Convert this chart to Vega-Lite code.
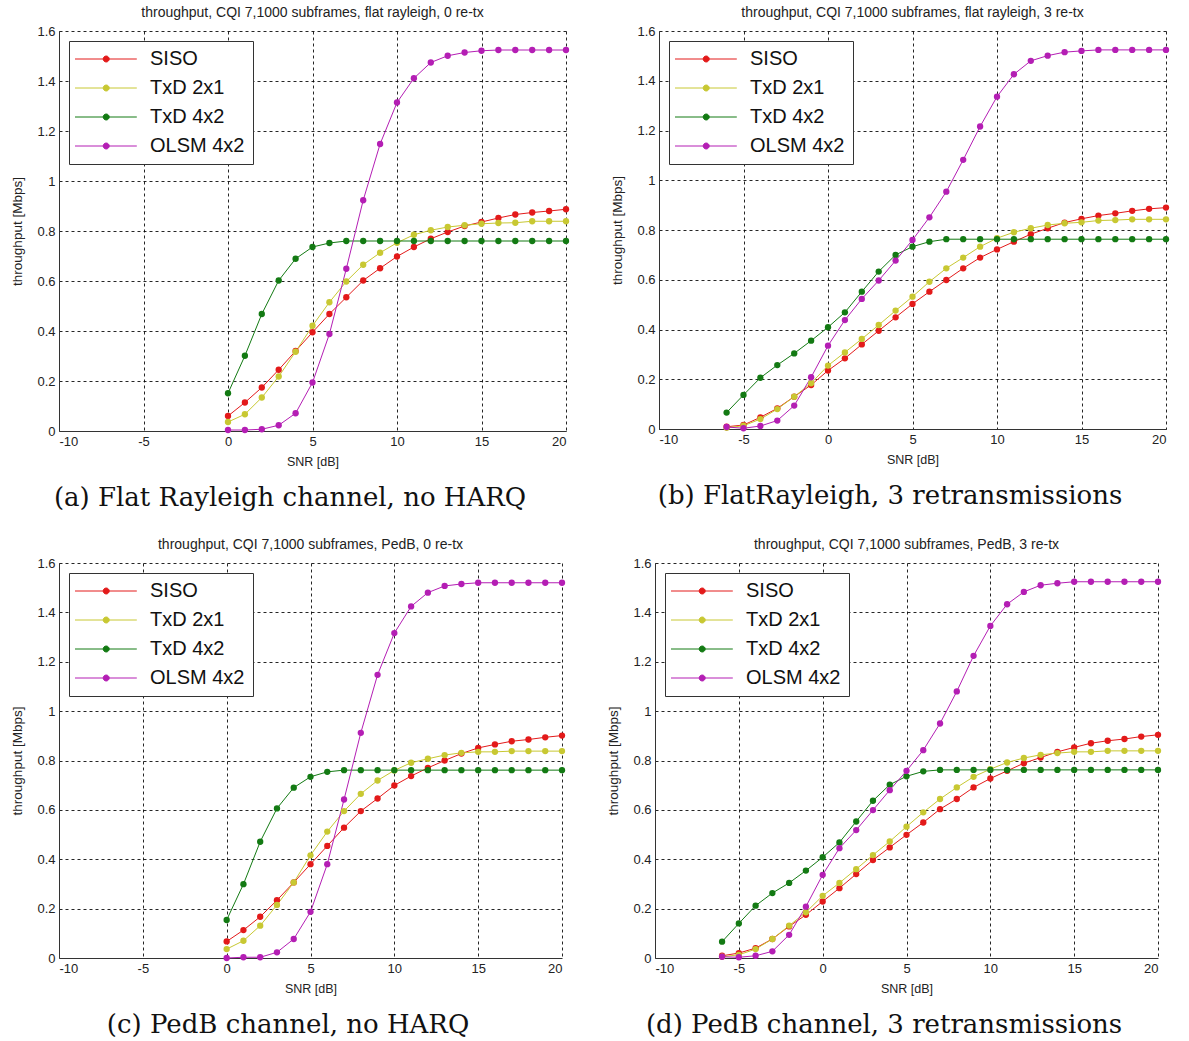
{
"$schema":"https://vega.github.io/schema/vega-lite/v6.json",
"padding":{"left":10,"top":6,"right":5,"bottom":3},
"datasets":{
"a":[
{"s":"SISO","x":0,"y":0.06},{"s":"SISO","x":1,"y":0.114},{"s":"SISO","x":2,"y":0.174},{"s":"SISO","x":3,"y":0.245},{"s":"SISO","x":4,"y":0.32},{"s":"SISO","x":5,"y":0.395},{"s":"SISO","x":6,"y":0.468},{"s":"SISO","x":7,"y":0.535},{"s":"SISO","x":8,"y":0.602},{"s":"SISO","x":9,"y":0.651},{"s":"SISO","x":10,"y":0.698},{"s":"SISO","x":11,"y":0.736},{"s":"SISO","x":12,"y":0.769},{"s":"SISO","x":13,"y":0.796},{"s":"SISO","x":14,"y":0.82},{"s":"SISO","x":15,"y":0.836},{"s":"SISO","x":16,"y":0.852},{"s":"SISO","x":17,"y":0.866},{"s":"SISO","x":18,"y":0.874},{"s":"SISO","x":19,"y":0.88},{"s":"SISO","x":20,"y":0.887},
{"s":"TxD 2x1","x":0,"y":0.036},{"s":"TxD 2x1","x":1,"y":0.067},{"s":"TxD 2x1","x":2,"y":0.134},{"s":"TxD 2x1","x":3,"y":0.218},{"s":"TxD 2x1","x":4,"y":0.317},{"s":"TxD 2x1","x":5,"y":0.421},{"s":"TxD 2x1","x":6,"y":0.515},{"s":"TxD 2x1","x":7,"y":0.598},{"s":"TxD 2x1","x":8,"y":0.665},{"s":"TxD 2x1","x":9,"y":0.713},{"s":"TxD 2x1","x":10,"y":0.753},{"s":"TxD 2x1","x":11,"y":0.785},{"s":"TxD 2x1","x":12,"y":0.803},{"s":"TxD 2x1","x":13,"y":0.816},{"s":"TxD 2x1","x":14,"y":0.823},{"s":"TxD 2x1","x":15,"y":0.829},{"s":"TxD 2x1","x":16,"y":0.832},{"s":"TxD 2x1","x":17,"y":0.833},{"s":"TxD 2x1","x":18,"y":0.839},{"s":"TxD 2x1","x":19,"y":0.839},{"s":"TxD 2x1","x":20,"y":0.839},
{"s":"TxD 4x2","x":0,"y":0.151},{"s":"TxD 4x2","x":1,"y":0.301},{"s":"TxD 4x2","x":2,"y":0.468},{"s":"TxD 4x2","x":3,"y":0.602},{"s":"TxD 4x2","x":4,"y":0.689},{"s":"TxD 4x2","x":5,"y":0.736},{"s":"TxD 4x2","x":6,"y":0.752},{"s":"TxD 4x2","x":7,"y":0.76},{"s":"TxD 4x2","x":8,"y":0.76},{"s":"TxD 4x2","x":9,"y":0.76},{"s":"TxD 4x2","x":10,"y":0.76},{"s":"TxD 4x2","x":11,"y":0.76},{"s":"TxD 4x2","x":12,"y":0.76},{"s":"TxD 4x2","x":13,"y":0.76},{"s":"TxD 4x2","x":14,"y":0.76},{"s":"TxD 4x2","x":15,"y":0.76},{"s":"TxD 4x2","x":16,"y":0.76},{"s":"TxD 4x2","x":17,"y":0.76},{"s":"TxD 4x2","x":18,"y":0.76},{"s":"TxD 4x2","x":19,"y":0.76},{"s":"TxD 4x2","x":20,"y":0.76},
{"s":"OLSM 4x2","x":0,"y":0.004},{"s":"OLSM 4x2","x":1,"y":0.004},{"s":"OLSM 4x2","x":2,"y":0.007},{"s":"OLSM 4x2","x":3,"y":0.023},{"s":"OLSM 4x2","x":4,"y":0.071},{"s":"OLSM 4x2","x":5,"y":0.194},{"s":"OLSM 4x2","x":6,"y":0.388},{"s":"OLSM 4x2","x":7,"y":0.649},{"s":"OLSM 4x2","x":8,"y":0.923},{"s":"OLSM 4x2","x":9,"y":1.148},{"s":"OLSM 4x2","x":10,"y":1.314},{"s":"OLSM 4x2","x":11,"y":1.411},{"s":"OLSM 4x2","x":12,"y":1.474},{"s":"OLSM 4x2","x":13,"y":1.501},{"s":"OLSM 4x2","x":14,"y":1.514},{"s":"OLSM 4x2","x":15,"y":1.521},{"s":"OLSM 4x2","x":16,"y":1.524},{"s":"OLSM 4x2","x":17,"y":1.524},{"s":"OLSM 4x2","x":18,"y":1.524},{"s":"OLSM 4x2","x":19,"y":1.524},{"s":"OLSM 4x2","x":20,"y":1.524}
],
"b":[
{"s":"SISO","x":-6,"y":0.009},{"s":"SISO","x":-5,"y":0.016},{"s":"SISO","x":-4,"y":0.047},{"s":"SISO","x":-3,"y":0.083},{"s":"SISO","x":-2,"y":0.13},{"s":"SISO","x":-1,"y":0.177},{"s":"SISO","x":0,"y":0.235},{"s":"SISO","x":1,"y":0.284},{"s":"SISO","x":2,"y":0.34},{"s":"SISO","x":3,"y":0.395},{"s":"SISO","x":4,"y":0.449},{"s":"SISO","x":5,"y":0.503},{"s":"SISO","x":6,"y":0.552},{"s":"SISO","x":7,"y":0.599},{"s":"SISO","x":8,"y":0.646},{"s":"SISO","x":9,"y":0.689},{"s":"SISO","x":10,"y":0.722},{"s":"SISO","x":11,"y":0.753},{"s":"SISO","x":12,"y":0.783},{"s":"SISO","x":13,"y":0.807},{"s":"SISO","x":14,"y":0.83},{"s":"SISO","x":15,"y":0.845},{"s":"SISO","x":16,"y":0.858},{"s":"SISO","x":17,"y":0.867},{"s":"SISO","x":18,"y":0.877},{"s":"SISO","x":19,"y":0.885},{"s":"SISO","x":20,"y":0.89},
{"s":"TxD 2x1","x":-6,"y":0.005},{"s":"TxD 2x1","x":-5,"y":0.013},{"s":"TxD 2x1","x":-4,"y":0.04},{"s":"TxD 2x1","x":-3,"y":0.08},{"s":"TxD 2x1","x":-2,"y":0.13},{"s":"TxD 2x1","x":-1,"y":0.184},{"s":"TxD 2x1","x":0,"y":0.255},{"s":"TxD 2x1","x":1,"y":0.308},{"s":"TxD 2x1","x":2,"y":0.362},{"s":"TxD 2x1","x":3,"y":0.418},{"s":"TxD 2x1","x":4,"y":0.476},{"s":"TxD 2x1","x":5,"y":0.532},{"s":"TxD 2x1","x":6,"y":0.592},{"s":"TxD 2x1","x":7,"y":0.646},{"s":"TxD 2x1","x":8,"y":0.689},{"s":"TxD 2x1","x":9,"y":0.733},{"s":"TxD 2x1","x":10,"y":0.767},{"s":"TxD 2x1","x":11,"y":0.791},{"s":"TxD 2x1","x":12,"y":0.807},{"s":"TxD 2x1","x":13,"y":0.82},{"s":"TxD 2x1","x":14,"y":0.827},{"s":"TxD 2x1","x":15,"y":0.831},{"s":"TxD 2x1","x":16,"y":0.838},{"s":"TxD 2x1","x":17,"y":0.84},{"s":"TxD 2x1","x":18,"y":0.843},{"s":"TxD 2x1","x":19,"y":0.843},{"s":"TxD 2x1","x":20,"y":0.843},
{"s":"TxD 4x2","x":-6,"y":0.066},{"s":"TxD 4x2","x":-5,"y":0.137},{"s":"TxD 4x2","x":-4,"y":0.206},{"s":"TxD 4x2","x":-3,"y":0.257},{"s":"TxD 4x2","x":-2,"y":0.304},{"s":"TxD 4x2","x":-1,"y":0.355},{"s":"TxD 4x2","x":0,"y":0.409},{"s":"TxD 4x2","x":1,"y":0.469},{"s":"TxD 4x2","x":2,"y":0.552},{"s":"TxD 4x2","x":3,"y":0.633},{"s":"TxD 4x2","x":4,"y":0.7},{"s":"TxD 4x2","x":5,"y":0.733},{"s":"TxD 4x2","x":6,"y":0.753},{"s":"TxD 4x2","x":7,"y":0.763},{"s":"TxD 4x2","x":8,"y":0.763},{"s":"TxD 4x2","x":9,"y":0.763},{"s":"TxD 4x2","x":10,"y":0.763},{"s":"TxD 4x2","x":11,"y":0.763},{"s":"TxD 4x2","x":12,"y":0.763},{"s":"TxD 4x2","x":13,"y":0.763},{"s":"TxD 4x2","x":14,"y":0.763},{"s":"TxD 4x2","x":15,"y":0.763},{"s":"TxD 4x2","x":16,"y":0.763},{"s":"TxD 4x2","x":17,"y":0.763},{"s":"TxD 4x2","x":18,"y":0.763},{"s":"TxD 4x2","x":19,"y":0.763},{"s":"TxD 4x2","x":20,"y":0.763},
{"s":"OLSM 4x2","x":-6,"y":0.008},{"s":"OLSM 4x2","x":-5,"y":0.003},{"s":"OLSM 4x2","x":-4,"y":0.012},{"s":"OLSM 4x2","x":-3,"y":0.034},{"s":"OLSM 4x2","x":-2,"y":0.094},{"s":"OLSM 4x2","x":-1,"y":0.208},{"s":"OLSM 4x2","x":0,"y":0.335},{"s":"OLSM 4x2","x":1,"y":0.438},{"s":"OLSM 4x2","x":2,"y":0.523},{"s":"OLSM 4x2","x":3,"y":0.597},{"s":"OLSM 4x2","x":4,"y":0.677},{"s":"OLSM 4x2","x":5,"y":0.76},{"s":"OLSM 4x2","x":6,"y":0.851},{"s":"OLSM 4x2","x":7,"y":0.954},{"s":"OLSM 4x2","x":8,"y":1.082},{"s":"OLSM 4x2","x":9,"y":1.216},{"s":"OLSM 4x2","x":10,"y":1.336},{"s":"OLSM 4x2","x":11,"y":1.426},{"s":"OLSM 4x2","x":12,"y":1.48},{"s":"OLSM 4x2","x":13,"y":1.501},{"s":"OLSM 4x2","x":14,"y":1.515},{"s":"OLSM 4x2","x":15,"y":1.52},{"s":"OLSM 4x2","x":16,"y":1.524},{"s":"OLSM 4x2","x":17,"y":1.524},{"s":"OLSM 4x2","x":18,"y":1.524},{"s":"OLSM 4x2","x":19,"y":1.524},{"s":"OLSM 4x2","x":20,"y":1.524}
],
"c":[
{"s":"SISO","x":0,"y":0.067},{"s":"SISO","x":1,"y":0.113},{"s":"SISO","x":2,"y":0.167},{"s":"SISO","x":3,"y":0.234},{"s":"SISO","x":4,"y":0.306},{"s":"SISO","x":5,"y":0.38},{"s":"SISO","x":6,"y":0.454},{"s":"SISO","x":7,"y":0.528},{"s":"SISO","x":8,"y":0.595},{"s":"SISO","x":9,"y":0.646},{"s":"SISO","x":10,"y":0.699},{"s":"SISO","x":11,"y":0.737},{"s":"SISO","x":12,"y":0.77},{"s":"SISO","x":13,"y":0.8},{"s":"SISO","x":14,"y":0.828},{"s":"SISO","x":15,"y":0.851},{"s":"SISO","x":16,"y":0.865},{"s":"SISO","x":17,"y":0.878},{"s":"SISO","x":18,"y":0.885},{"s":"SISO","x":19,"y":0.894},{"s":"SISO","x":20,"y":0.901},
{"s":"TxD 2x1","x":0,"y":0.036},{"s":"TxD 2x1","x":1,"y":0.07},{"s":"TxD 2x1","x":2,"y":0.131},{"s":"TxD 2x1","x":3,"y":0.215},{"s":"TxD 2x1","x":4,"y":0.306},{"s":"TxD 2x1","x":5,"y":0.416},{"s":"TxD 2x1","x":6,"y":0.512},{"s":"TxD 2x1","x":7,"y":0.595},{"s":"TxD 2x1","x":8,"y":0.665},{"s":"TxD 2x1","x":9,"y":0.719},{"s":"TxD 2x1","x":10,"y":0.76},{"s":"TxD 2x1","x":11,"y":0.791},{"s":"TxD 2x1","x":12,"y":0.807},{"s":"TxD 2x1","x":13,"y":0.822},{"s":"TxD 2x1","x":14,"y":0.831},{"s":"TxD 2x1","x":15,"y":0.835},{"s":"TxD 2x1","x":16,"y":0.835},{"s":"TxD 2x1","x":17,"y":0.838},{"s":"TxD 2x1","x":18,"y":0.838},{"s":"TxD 2x1","x":19,"y":0.838},{"s":"TxD 2x1","x":20,"y":0.838},
{"s":"TxD 4x2","x":0,"y":0.154},{"s":"TxD 4x2","x":1,"y":0.299},{"s":"TxD 4x2","x":2,"y":0.471},{"s":"TxD 4x2","x":3,"y":0.606},{"s":"TxD 4x2","x":4,"y":0.69},{"s":"TxD 4x2","x":5,"y":0.734},{"s":"TxD 4x2","x":6,"y":0.754},{"s":"TxD 4x2","x":7,"y":0.761},{"s":"TxD 4x2","x":8,"y":0.761},{"s":"TxD 4x2","x":9,"y":0.761},{"s":"TxD 4x2","x":10,"y":0.761},{"s":"TxD 4x2","x":11,"y":0.761},{"s":"TxD 4x2","x":12,"y":0.761},{"s":"TxD 4x2","x":13,"y":0.761},{"s":"TxD 4x2","x":14,"y":0.761},{"s":"TxD 4x2","x":15,"y":0.761},{"s":"TxD 4x2","x":16,"y":0.761},{"s":"TxD 4x2","x":17,"y":0.761},{"s":"TxD 4x2","x":18,"y":0.761},{"s":"TxD 4x2","x":19,"y":0.761},{"s":"TxD 4x2","x":20,"y":0.761},
{"s":"OLSM 4x2","x":0,"y":0.0},{"s":"OLSM 4x2","x":1,"y":0.003},{"s":"OLSM 4x2","x":2,"y":0.003},{"s":"OLSM 4x2","x":3,"y":0.023},{"s":"OLSM 4x2","x":4,"y":0.077},{"s":"OLSM 4x2","x":5,"y":0.187},{"s":"OLSM 4x2","x":6,"y":0.38},{"s":"OLSM 4x2","x":7,"y":0.642},{"s":"OLSM 4x2","x":8,"y":0.912},{"s":"OLSM 4x2","x":9,"y":1.147},{"s":"OLSM 4x2","x":10,"y":1.316},{"s":"OLSM 4x2","x":11,"y":1.424},{"s":"OLSM 4x2","x":12,"y":1.48},{"s":"OLSM 4x2","x":13,"y":1.507},{"s":"OLSM 4x2","x":14,"y":1.515},{"s":"OLSM 4x2","x":15,"y":1.52},{"s":"OLSM 4x2","x":16,"y":1.52},{"s":"OLSM 4x2","x":17,"y":1.52},{"s":"OLSM 4x2","x":18,"y":1.52},{"s":"OLSM 4x2","x":19,"y":1.52},{"s":"OLSM 4x2","x":20,"y":1.52}
],
"d":[
{"s":"SISO","x":-6,"y":0.009},{"s":"SISO","x":-5,"y":0.02},{"s":"SISO","x":-4,"y":0.04},{"s":"SISO","x":-3,"y":0.077},{"s":"SISO","x":-2,"y":0.128},{"s":"SISO","x":-1,"y":0.175},{"s":"SISO","x":0,"y":0.229},{"s":"SISO","x":1,"y":0.283},{"s":"SISO","x":2,"y":0.34},{"s":"SISO","x":3,"y":0.397},{"s":"SISO","x":4,"y":0.448},{"s":"SISO","x":5,"y":0.499},{"s":"SISO","x":6,"y":0.549},{"s":"SISO","x":7,"y":0.603},{"s":"SISO","x":8,"y":0.644},{"s":"SISO","x":9,"y":0.691},{"s":"SISO","x":10,"y":0.727},{"s":"SISO","x":11,"y":0.758},{"s":"SISO","x":12,"y":0.789},{"s":"SISO","x":13,"y":0.812},{"s":"SISO","x":14,"y":0.835},{"s":"SISO","x":15,"y":0.853},{"s":"SISO","x":16,"y":0.87},{"s":"SISO","x":17,"y":0.88},{"s":"SISO","x":18,"y":0.887},{"s":"SISO","x":19,"y":0.897},{"s":"SISO","x":20,"y":0.904},
{"s":"TxD 2x1","x":-6,"y":0.005},{"s":"TxD 2x1","x":-5,"y":0.013},{"s":"TxD 2x1","x":-4,"y":0.036},{"s":"TxD 2x1","x":-3,"y":0.077},{"s":"TxD 2x1","x":-2,"y":0.131},{"s":"TxD 2x1","x":-1,"y":0.185},{"s":"TxD 2x1","x":0,"y":0.252},{"s":"TxD 2x1","x":1,"y":0.304},{"s":"TxD 2x1","x":2,"y":0.36},{"s":"TxD 2x1","x":3,"y":0.417},{"s":"TxD 2x1","x":4,"y":0.472},{"s":"TxD 2x1","x":5,"y":0.532},{"s":"TxD 2x1","x":6,"y":0.59},{"s":"TxD 2x1","x":7,"y":0.644},{"s":"TxD 2x1","x":8,"y":0.691},{"s":"TxD 2x1","x":9,"y":0.734},{"s":"TxD 2x1","x":10,"y":0.765},{"s":"TxD 2x1","x":11,"y":0.792},{"s":"TxD 2x1","x":12,"y":0.81},{"s":"TxD 2x1","x":13,"y":0.823},{"s":"TxD 2x1","x":14,"y":0.83},{"s":"TxD 2x1","x":15,"y":0.835},{"s":"TxD 2x1","x":16,"y":0.835},{"s":"TxD 2x1","x":17,"y":0.839},{"s":"TxD 2x1","x":18,"y":0.839},{"s":"TxD 2x1","x":19,"y":0.839},{"s":"TxD 2x1","x":20,"y":0.839},
{"s":"TxD 4x2","x":-6,"y":0.066},{"s":"TxD 4x2","x":-5,"y":0.14},{"s":"TxD 4x2","x":-4,"y":0.212},{"s":"TxD 4x2","x":-3,"y":0.263},{"s":"TxD 4x2","x":-2,"y":0.304},{"s":"TxD 4x2","x":-1,"y":0.354},{"s":"TxD 4x2","x":0,"y":0.408},{"s":"TxD 4x2","x":1,"y":0.468},{"s":"TxD 4x2","x":2,"y":0.553},{"s":"TxD 4x2","x":3,"y":0.637},{"s":"TxD 4x2","x":4,"y":0.702},{"s":"TxD 4x2","x":5,"y":0.736},{"s":"TxD 4x2","x":6,"y":0.756},{"s":"TxD 4x2","x":7,"y":0.762},{"s":"TxD 4x2","x":8,"y":0.762},{"s":"TxD 4x2","x":9,"y":0.762},{"s":"TxD 4x2","x":10,"y":0.762},{"s":"TxD 4x2","x":11,"y":0.762},{"s":"TxD 4x2","x":12,"y":0.762},{"s":"TxD 4x2","x":13,"y":0.762},{"s":"TxD 4x2","x":14,"y":0.762},{"s":"TxD 4x2","x":15,"y":0.762},{"s":"TxD 4x2","x":16,"y":0.762},{"s":"TxD 4x2","x":17,"y":0.762},{"s":"TxD 4x2","x":18,"y":0.762},{"s":"TxD 4x2","x":19,"y":0.762},{"s":"TxD 4x2","x":20,"y":0.762},
{"s":"OLSM 4x2","x":-6,"y":0.005},{"s":"OLSM 4x2","x":-5,"y":0.003},{"s":"OLSM 4x2","x":-4,"y":0.009},{"s":"OLSM 4x2","x":-3,"y":0.027},{"s":"OLSM 4x2","x":-2,"y":0.094},{"s":"OLSM 4x2","x":-1,"y":0.208},{"s":"OLSM 4x2","x":0,"y":0.337},{"s":"OLSM 4x2","x":1,"y":0.445},{"s":"OLSM 4x2","x":2,"y":0.518},{"s":"OLSM 4x2","x":3,"y":0.599},{"s":"OLSM 4x2","x":4,"y":0.68},{"s":"OLSM 4x2","x":5,"y":0.758},{"s":"OLSM 4x2","x":6,"y":0.842},{"s":"OLSM 4x2","x":7,"y":0.95},{"s":"OLSM 4x2","x":8,"y":1.08},{"s":"OLSM 4x2","x":9,"y":1.224},{"s":"OLSM 4x2","x":10,"y":1.345},{"s":"OLSM 4x2","x":11,"y":1.433},{"s":"OLSM 4x2","x":12,"y":1.483},{"s":"OLSM 4x2","x":13,"y":1.51},{"s":"OLSM 4x2","x":14,"y":1.518},{"s":"OLSM 4x2","x":15,"y":1.524},{"s":"OLSM 4x2","x":16,"y":1.524},{"s":"OLSM 4x2","x":17,"y":1.524},{"s":"OLSM 4x2","x":18,"y":1.524},{"s":"OLSM 4x2","x":19,"y":1.524},{"s":"OLSM 4x2","x":20,"y":1.524}
]
},
"spacing":27,
"resolve":{"legend":{"color":"independent"}},
"vconcat":[
{"hconcat":[
 {"vconcat":[{
   "width":507,"height":400,
   "title":"throughput, CQI 7,1000 subframes, flat rayleigh, 0 re-tx",
   "data":{"name":"a"},
   "layer":[{"mark":{"type":"line","strokeWidth":1}},{"mark":{"type":"point","filled":true,"size":40,"opacity":1}}],
   "encoding":{
    "x":{"field":"x","type":"quantitative","scale":{"domain":[-10,20],"nice":false},"axis":{"values":[-10,-5,0,5,10,15,20],"title":"SNR [dB]"}},
    "y":{"field":"y","type":"quantitative","scale":{"domain":[0,1.6],"nice":false},"axis":{"values":[0,0.2,0.4,0.6,0.8,1,1.2,1.4,1.6],"title":"throughput [Mbps]"}},
    "color":{"field":"s","type":"nominal","scale":{"domain":["SISO","TxD 2x1","TxD 4x2","OLSM 4x2"],"range":["#e31a1a","#c8c832","#137a13","#b41eb4"]},"legend":{"title":null}}
   }
 }],
 "title":{"text":"(a) Flat Rayleigh channel, no HARQ","orient":"bottom","anchor":"middle","font":"DejaVu Serif","fontSize":26,"color":"#111","offset":17}},
 {"vconcat":[{
   "width":507,"height":398,
   "title":"throughput, CQI 7,1000 subframes, flat rayleigh, 3 re-tx",
   "data":{"name":"b"},
   "layer":[{"mark":{"type":"line","strokeWidth":1}},{"mark":{"type":"point","filled":true,"size":40,"opacity":1}}],
   "encoding":{
    "x":{"field":"x","type":"quantitative","scale":{"domain":[-10,20],"nice":false},"axis":{"values":[-10,-5,0,5,10,15,20],"title":"SNR [dB]"}},
    "y":{"field":"y","type":"quantitative","scale":{"domain":[0,1.6],"nice":false},"axis":{"values":[0,0.2,0.4,0.6,0.8,1,1.2,1.4,1.6],"title":"throughput [Mbps]"}},
    "color":{"field":"s","type":"nominal","scale":{"domain":["SISO","TxD 2x1","TxD 4x2","OLSM 4x2"],"range":["#e31a1a","#c8c832","#137a13","#b41eb4"]},"legend":{"title":null}}
   }
 }],
 "title":{"text":"(b) FlatRayleigh, 3 retransmissions","orient":"bottom","anchor":"middle","font":"DejaVu Serif","fontSize":26,"color":"#111","offset":17}}
],"spacing":40,"resolve":{"legend":{"color":"independent"}}},
{"hconcat":[
 {"vconcat":[{
   "width":503,"height":395,
   "title":"throughput, CQI 7,1000 subframes, PedB, 0 re-tx",
   "data":{"name":"c"},
   "layer":[{"mark":{"type":"line","strokeWidth":1}},{"mark":{"type":"point","filled":true,"size":40,"opacity":1}}],
   "encoding":{
    "x":{"field":"x","type":"quantitative","scale":{"domain":[-10,20],"nice":false},"axis":{"values":[-10,-5,0,5,10,15,20],"title":"SNR [dB]"}},
    "y":{"field":"y","type":"quantitative","scale":{"domain":[0,1.6],"nice":false},"axis":{"values":[0,0.2,0.4,0.6,0.8,1,1.2,1.4,1.6],"title":"throughput [Mbps]"}},
    "color":{"field":"s","type":"nominal","scale":{"domain":["SISO","TxD 2x1","TxD 4x2","OLSM 4x2"],"range":["#e31a1a","#c8c832","#137a13","#b41eb4"]},"legend":{"title":null}}
   }
 }],
 "title":{"text":"(c) PedB channel, no HARQ","orient":"bottom","anchor":"middle","font":"DejaVu Serif","fontSize":26,"color":"#111","offset":17}},
 {"vconcat":[{
   "width":503,"height":395,
   "title":"throughput, CQI 7,1000 subframes, PedB, 3 re-tx",
   "data":{"name":"d"},
   "layer":[{"mark":{"type":"line","strokeWidth":1}},{"mark":{"type":"point","filled":true,"size":40,"opacity":1}}],
   "encoding":{
    "x":{"field":"x","type":"quantitative","scale":{"domain":[-10,20],"nice":false},"axis":{"values":[-10,-5,0,5,10,15,20],"title":"SNR [dB]"}},
    "y":{"field":"y","type":"quantitative","scale":{"domain":[0,1.6],"nice":false},"axis":{"values":[0,0.2,0.4,0.6,0.8,1,1.2,1.4,1.6],"title":"throughput [Mbps]"}},
    "color":{"field":"s","type":"nominal","scale":{"domain":["SISO","TxD 2x1","TxD 4x2","OLSM 4x2"],"range":["#e31a1a","#c8c832","#137a13","#b41eb4"]},"legend":{"title":null}}
   }
 }],
 "title":{"text":"(d) PedB channel, 3 retransmissions","orient":"bottom","anchor":"middle","font":"DejaVu Serif","fontSize":26,"color":"#111","offset":17}}
],"spacing":40,"resolve":{"legend":{"color":"independent"}}}
],
"config":{
 "view":{"stroke":null},
 "font":"Liberation Sans",
 "axis":{"grid":true,"gridColor":"#000","gridDash":[3,3],"gridOpacity":0.85,"gridWidth":1,"domainColor":"#333","domainWidth":1,"ticks":false,"labelFont":"Liberation Sans","labelFontSize":13,"labelColor":"#222","titleFont":"Liberation Sans","titleFontWeight":"normal","titleColor":"#222","labelPadding":4,"labelExpr":"'' + datum.value"},
 "axisY":{"titlePadding":12,"titleFontSize":13.5},
 "axisX":{"titlePadding":7,"titleFontSize":12.5},
 "legend":{"orient":"top-left","offset":10,"strokeColor":"#333","fillColor":"white","padding":8,"cornerRadius":0,"labelFont":"Liberation Sans","labelFontSize":20,"labelColor":"#111","symbolType":"M-2,0L8.3,0M3.7,0A0.5,0.5 0 1,1 2.7,0A0.5,0.5 0 1,1 3.7,0","symbolSize":144,"symbolStrokeWidth":1,"labelOffset":53,"rowPadding":9},
 "title":{"font":"Liberation Sans","fontSize":14,"fontWeight":"normal","color":"#222","offset":5}
}
}
